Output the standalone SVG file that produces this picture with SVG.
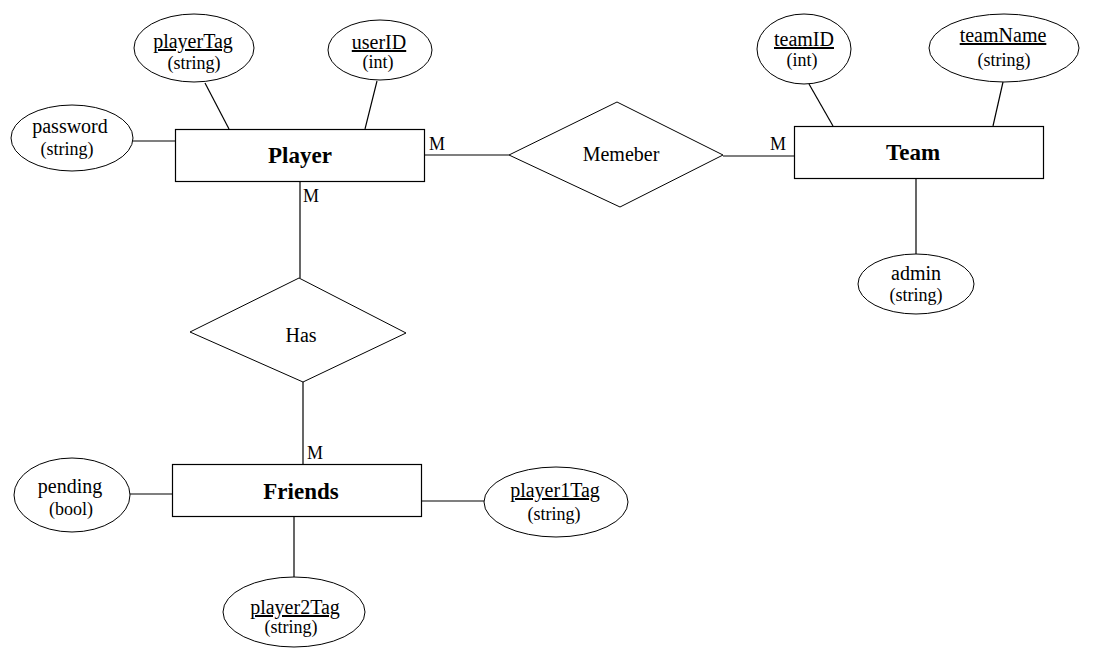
<svg xmlns="http://www.w3.org/2000/svg" width="1105" height="656" viewBox="0 0 1105 656">
<style>
.bg{fill:#fff}
.ent{fill:#fff;stroke:#000;stroke-width:1.2}
.rel{fill:#fff;stroke:#000;stroke-width:1}
.att{fill:#fff;stroke:#000;stroke-width:1}
.ln{stroke:#000;stroke-width:1.2;fill:none}
text{font-family:"Liberation Serif","Times New Roman",serif;fill:#000;text-anchor:middle}
.en{font-size:23px;font-weight:bold}
.an{font-size:20px}
.at{font-size:18px}
.rn{font-size:20px}
.card{font-size:18px;text-anchor:start}
.key{text-decoration:underline}
</style>
<rect class="bg" x="0" y="0" width="1105" height="656"/>
<g id="connectors">
<line class="ln" x1="205" y1="83" x2="229" y2="129"/>
<line class="ln" x1="377" y1="81" x2="365" y2="129"/>
<line class="ln" x1="132" y1="141" x2="176" y2="141"/>
<line class="ln" x1="424" y1="155" x2="509" y2="155"/>
<line class="ln" x1="723" y1="156" x2="795" y2="156"/>
<line class="ln" x1="809" y1="84" x2="833" y2="126"/>
<line class="ln" x1="1003" y1="82" x2="993" y2="126"/>
<line class="ln" x1="916" y1="178" x2="916" y2="254"/>
<line class="ln" x1="300" y1="181" x2="300" y2="278"/>
<line class="ln" x1="303" y1="382" x2="303" y2="464"/>
<line class="ln" x1="130" y1="494" x2="172" y2="494"/>
<line class="ln" x1="422" y1="501" x2="484" y2="501"/>
<line class="ln" x1="294" y1="516" x2="294" y2="577"/>
<text class="card" x="429" y="150">M</text>
<text class="card" x="770" y="150">M</text>
<text class="card" x="303" y="202">M</text>
<text class="card" x="307" y="459">M</text>
</g>
<g id="player">
<rect class="ent" x="175.5" y="129.5" width="249" height="52"/>
<text class="en" x="300" y="163">Player</text>
</g>
<g id="team">
<rect class="ent" x="794.5" y="126.5" width="249" height="52"/>
<text class="en" x="913" y="160">Team</text>
</g>
<g id="friends">
<rect class="ent" x="172.5" y="464.5" width="249" height="52"/>
<text class="en" x="301" y="499">Friends</text>
</g>
<g id="memeber">
<polygon class="rel" points="509,155 617,102 723,155 620,207"/>
<text class="rn" x="621" y="161">Memeber</text>
</g>
<g id="has">
<polygon class="rel" points="190,332 299,278 406,333 303,382"/>
<text class="rn" x="301" y="342">Has</text>
</g>
<g id="attr-playerTag">
<ellipse class="att" cx="194" cy="48" rx="60" ry="34"/>
<text class="an key" x="193" y="48">playerTag</text>
<text class="at" x="194" y="69">(string)</text>
</g>
<g id="attr-userID">
<ellipse class="att" cx="380" cy="50" rx="52" ry="30"/>
<text class="an key" x="379" y="49">userID</text>
<text class="at" x="378" y="68">(int)</text>
</g>
<g id="attr-password">
<ellipse class="att" cx="72" cy="138" rx="61" ry="33"/>
<text class="an" x="70" y="133">password</text>
<text class="at" x="67" y="155">(string)</text>
</g>
<g id="attr-teamID">
<ellipse class="att" cx="804" cy="49" rx="47" ry="35"/>
<text class="an key" x="804" y="46">teamID</text>
<text class="at" x="802" y="66">(int)</text>
</g>
<g id="attr-teamName">
<ellipse class="att" cx="1004" cy="48" rx="75" ry="34"/>
<text class="an key" x="1003" y="42">teamName</text>
<text class="at" x="1004" y="66">(string)</text>
</g>
<g id="attr-admin">
<ellipse class="att" cx="916" cy="284" rx="58" ry="30"/>
<text class="an" x="916" y="280">admin</text>
<text class="at" x="916" y="301">(string)</text>
</g>
<g id="attr-pending">
<ellipse class="att" cx="72" cy="495" rx="58" ry="37"/>
<text class="an" x="70" y="493">pending</text>
<text class="at" x="71" y="515">(bool)</text>
</g>
<g id="attr-player1Tag">
<ellipse class="att" cx="556" cy="502" rx="72" ry="35"/>
<text class="an key" x="555" y="497">player1Tag</text>
<text class="at" x="554" y="520">(string)</text>
</g>
<g id="attr-player2Tag">
<ellipse class="att" cx="294" cy="612" rx="71" ry="35"/>
<text class="an key" x="295" y="614">player2Tag</text>
<text class="at" x="291" y="633">(string)</text>
</g>
</svg>
